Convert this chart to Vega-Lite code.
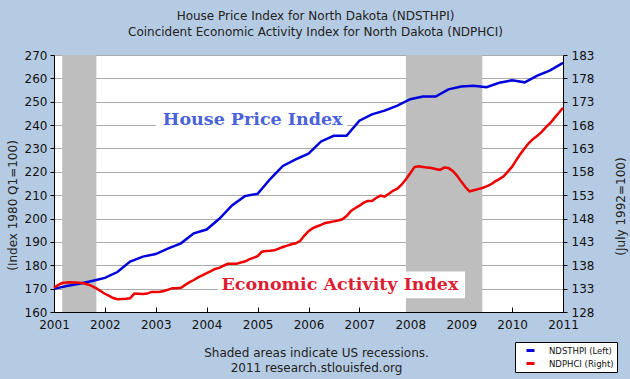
{
  "$schema": "https://vega.github.io/schema/vega-lite/v6.json",
  "width": 509,
  "height": 257,
  "autosize": {"type": "none"},
  "padding": {"left": 54, "top": 55, "right": 67, "bottom": 67},
  "background": "#B5CBE3",
  "title": {
    "text": ["House Price Index for North Dakota (NDSTHPI)", "Coincident Economic Activity Index for North Dakota (NDPHCI)"],
    "font": "DejaVu Sans", "fontSize": 12, "fontWeight": "normal", "color": "#222222",
    "lineHeight": 16, "anchor": "middle", "baseline": "bottom", "offset": 18, "dx": 7, "dy": 20
  },
  "config": {"view": {"fill": "white", "stroke": null}, "font": "DejaVu Sans"},
  "datasets": {
    "recessions": [
      {"date": "2001-03-01", "end": "2001-11-01"},
      {"date": "2007-12-01", "end": "2009-06-01"}
    ],
    "boxes": [
      {"date": "2003-01-01", "end": "2006-10-05", "value": 237.5, "value2": 247.3},
      {"date": "2004-03-22", "end": "2009-01-28", "value": 165.9, "value2": 177.3}
    ],
    "label1": [{"date": "2003-02-21", "value": 240, "label": "House Price Index"}],
    "label2": [{"date": "2004-04-17", "value": 169.4, "label": "Economic Activity Index"}],
    "hpi": [
      {"date": "2001-01-01", "value": 169.9}, {"date": "2001-04-01", "value": 171.1},
      {"date": "2001-07-01", "value": 172.1}, {"date": "2001-10-01", "value": 173.3},
      {"date": "2002-01-01", "value": 174.6}, {"date": "2002-04-01", "value": 177.1},
      {"date": "2002-07-01", "value": 181.6}, {"date": "2002-10-01", "value": 183.7},
      {"date": "2003-01-01", "value": 184.8}, {"date": "2003-04-01", "value": 187.2},
      {"date": "2003-07-01", "value": 189.4}, {"date": "2003-10-01", "value": 193.7},
      {"date": "2004-01-01", "value": 195.3}, {"date": "2004-04-01", "value": 199.9},
      {"date": "2004-07-01", "value": 205.6}, {"date": "2004-10-01", "value": 209.6},
      {"date": "2005-01-01", "value": 210.6}, {"date": "2005-04-01", "value": 216.9},
      {"date": "2005-07-01", "value": 222.5}, {"date": "2005-10-01", "value": 225.3},
      {"date": "2006-01-01", "value": 227.8}, {"date": "2006-04-01", "value": 233.0},
      {"date": "2006-07-01", "value": 235.4}, {"date": "2006-10-01", "value": 235.4},
      {"date": "2007-01-01", "value": 241.9}, {"date": "2007-04-01", "value": 244.6},
      {"date": "2007-07-01", "value": 246.2}, {"date": "2007-10-01", "value": 248.3},
      {"date": "2008-01-01", "value": 251.1}, {"date": "2008-04-01", "value": 252.2},
      {"date": "2008-07-01", "value": 252.2}, {"date": "2008-10-01", "value": 255.3},
      {"date": "2009-01-01", "value": 256.5}, {"date": "2009-04-01", "value": 256.8},
      {"date": "2009-07-01", "value": 256.2}, {"date": "2009-10-01", "value": 258.1},
      {"date": "2010-01-01", "value": 259.2}, {"date": "2010-04-01", "value": 258.3},
      {"date": "2010-07-01", "value": 261.2}, {"date": "2010-10-01", "value": 263.4},
      {"date": "2011-01-01", "value": 266.6}
    ],
    "ci": [
      {"date": "2001-01-01", "value": 133.2}, {"date": "2001-02-01", "value": 133.8}, {"date": "2001-03-01", "value": 134.2}, {"date": "2001-04-01", "value": 134.3},
      {"date": "2001-05-01", "value": 134.35}, {"date": "2001-06-01", "value": 134.3}, {"date": "2001-07-01", "value": 134.25}, {"date": "2001-08-01", "value": 134.15},
      {"date": "2001-09-01", "value": 133.9}, {"date": "2001-10-01", "value": 133.55}, {"date": "2001-11-01", "value": 133.05}, {"date": "2001-12-01", "value": 132.5},
      {"date": "2002-01-01", "value": 131.9}, {"date": "2002-02-01", "value": 131.45}, {"date": "2002-03-01", "value": 131.0}, {"date": "2002-04-01", "value": 130.75},
      {"date": "2002-05-01", "value": 130.8}, {"date": "2002-06-01", "value": 130.85}, {"date": "2002-07-01", "value": 130.95}, {"date": "2002-08-01", "value": 131.95},
      {"date": "2002-09-01", "value": 131.9}, {"date": "2002-10-01", "value": 131.85}, {"date": "2002-11-01", "value": 131.95}, {"date": "2002-12-01", "value": 132.3},
      {"date": "2003-01-01", "value": 132.3}, {"date": "2003-02-01", "value": 132.35}, {"date": "2003-03-01", "value": 132.5}, {"date": "2003-04-01", "value": 132.8},
      {"date": "2003-05-01", "value": 133.1}, {"date": "2003-06-01", "value": 133.1}, {"date": "2003-07-01", "value": 133.2}, {"date": "2003-08-01", "value": 133.8},
      {"date": "2003-09-01", "value": 134.4}, {"date": "2003-10-01", "value": 134.85}, {"date": "2003-11-01", "value": 135.4}, {"date": "2003-12-01", "value": 135.85},
      {"date": "2004-01-01", "value": 136.3}, {"date": "2004-02-01", "value": 136.75}, {"date": "2004-03-01", "value": 137.2}, {"date": "2004-04-01", "value": 137.45},
      {"date": "2004-05-01", "value": 137.9}, {"date": "2004-06-01", "value": 138.3}, {"date": "2004-07-01", "value": 138.3}, {"date": "2004-08-01", "value": 138.3},
      {"date": "2004-09-01", "value": 138.6}, {"date": "2004-10-01", "value": 138.8}, {"date": "2004-11-01", "value": 139.25}, {"date": "2004-12-01", "value": 139.6},
      {"date": "2005-01-01", "value": 139.95}, {"date": "2005-02-01", "value": 140.9}, {"date": "2005-03-01", "value": 141.05}, {"date": "2005-04-01", "value": 141.1},
      {"date": "2005-05-01", "value": 141.2}, {"date": "2005-06-01", "value": 141.55}, {"date": "2005-07-01", "value": 141.9}, {"date": "2005-08-01", "value": 142.2},
      {"date": "2005-09-01", "value": 142.5}, {"date": "2005-10-01", "value": 142.7}, {"date": "2005-11-01", "value": 143.2}, {"date": "2005-12-01", "value": 144.3},
      {"date": "2006-01-01", "value": 145.3}, {"date": "2006-02-01", "value": 145.95}, {"date": "2006-03-01", "value": 146.3}, {"date": "2006-04-01", "value": 146.65},
      {"date": "2006-05-01", "value": 147.05}, {"date": "2006-06-01", "value": 147.2}, {"date": "2006-07-01", "value": 147.4}, {"date": "2006-08-01", "value": 147.6},
      {"date": "2006-09-01", "value": 147.85}, {"date": "2006-10-01", "value": 148.55}, {"date": "2006-11-01", "value": 149.6}, {"date": "2006-12-01", "value": 150.2},
      {"date": "2007-01-01", "value": 150.75}, {"date": "2007-02-01", "value": 151.4}, {"date": "2007-03-01", "value": 151.75}, {"date": "2007-04-01", "value": 151.75},
      {"date": "2007-05-01", "value": 152.4}, {"date": "2007-06-01", "value": 152.9}, {"date": "2007-07-01", "value": 152.7}, {"date": "2007-08-01", "value": 153.3},
      {"date": "2007-09-01", "value": 154.0}, {"date": "2007-10-01", "value": 154.4}, {"date": "2007-11-01", "value": 155.3}, {"date": "2007-12-01", "value": 156.4},
      {"date": "2008-01-01", "value": 157.7}, {"date": "2008-02-01", "value": 159.0}, {"date": "2008-03-01", "value": 159.2}, {"date": "2008-04-01", "value": 159.05},
      {"date": "2008-05-01", "value": 158.9}, {"date": "2008-06-01", "value": 158.8}, {"date": "2008-07-01", "value": 158.6}, {"date": "2008-08-01", "value": 158.4},
      {"date": "2008-09-01", "value": 158.9}, {"date": "2008-10-01", "value": 158.8}, {"date": "2008-11-01", "value": 158.2}, {"date": "2008-12-01", "value": 157.2},
      {"date": "2009-01-01", "value": 155.9}, {"date": "2009-02-01", "value": 154.7}, {"date": "2009-03-01", "value": 153.8}, {"date": "2009-04-01", "value": 154.05},
      {"date": "2009-05-01", "value": 154.3}, {"date": "2009-06-01", "value": 154.55}, {"date": "2009-07-01", "value": 154.9}, {"date": "2009-08-01", "value": 155.3},
      {"date": "2009-09-01", "value": 155.95}, {"date": "2009-10-01", "value": 156.45}, {"date": "2009-11-01", "value": 157.05}, {"date": "2009-12-01", "value": 158.05},
      {"date": "2010-01-01", "value": 159.1}, {"date": "2010-02-01", "value": 160.55}, {"date": "2010-03-01", "value": 161.8}, {"date": "2010-04-01", "value": 163.05},
      {"date": "2010-05-01", "value": 164.15}, {"date": "2010-06-01", "value": 165.05}, {"date": "2010-07-01", "value": 165.7}, {"date": "2010-08-01", "value": 166.55},
      {"date": "2010-09-01", "value": 167.55}, {"date": "2010-10-01", "value": 168.4}, {"date": "2010-11-01", "value": 169.55}, {"date": "2010-12-01", "value": 170.6},
      {"date": "2011-01-01", "value": 171.7}
    ]
  },
  "encoding": {
    "x": {
      "field": "date", "type": "temporal",
      "scale": {"type": "utc", "domain": [{"year": 2001, "month": 1, "date": 1, "utc": true}, {"year": 2011, "month": 1, "date": 1, "utc": true}]},
      "axis": {
        "tickCount": {"interval": "year", "step": 1}, "format": "%Y", "labelFlush": false, "labelOverlap": false,
        "grid": false, "tickSize": -5, "labelPadding": 12, "domainColor": "#000000", "tickColor": "#000000",
        "labelFont": "DejaVu Sans", "labelFontSize": 12, "labelColor": "#111111",
        "title": ["Shaded areas indicate US recessions.", "2011 research.stlouisfed.org"],
        "titleFont": "DejaVu Sans", "titleFontSize": 12, "titleFontWeight": "normal", "titleColor": "#222222",
        "titleLineHeight": 15, "titleX": 262, "titleY": 35, "titleBaseline": "top", "titleAlign": "center"
      }
    }
  },
  "layer": [
    {
      "data": {"name": "recessions"},
      "mark": {"type": "rect", "color": "#BEBEBE"},
      "encoding": {"x2": {"field": "end"}}
    },
    {
      "encoding": {
        "y": {
          "field": "value", "type": "quantitative",
          "scale": {"domain": [160, 270], "nice": false, "zero": false},
          "axis": {
            "orient": "left", "values": [160, 170, 180, 190, 200, 210, 220, 230, 240, 250, 260, 270],
            "grid": true, "gridColor": "#AAAAAA", "tickSize": 4, "labelPadding": 3,
            "domainColor": "#000000", "tickColor": "#000000",
            "labelFont": "DejaVu Sans", "labelFontSize": 12, "labelColor": "#111111",
            "title": "(Index 1980 Q1=100)", "titleFont": "DejaVu Sans", "titleFontSize": 12, "titleFontWeight": "normal",
            "titleColor": "#222222", "titleAngle": 270, "titleX": -42, "titleY": 150, "titleBaseline": "middle", "titleAlign": "center"
          }
        }
      },
      "layer": [
        {
          "data": {"name": "hpi"},
          "mark": {"type": "line", "strokeWidth": 2.5},
          "encoding": {
            "color": {
              "datum": "NDSTHPI (Left)", "type": "nominal",
              "scale": {"domain": ["NDSTHPI (Left)", "NDPHCI (Right)"], "range": ["#0000DD", "#EE0000"]},
              "legend": {
                "title": null, "orient": "none", "legendX": 461, "legendY": 287, "direction": "vertical",
                "fillColor": "#FFFFFF", "strokeColor": "#000000", "padding": 3, "symbolOffset": 7,
                "symbolType": "stroke", "symbolStrokeWidth": 3, "symbolSize": 64, "clipHeight": 11,
                "labelFont": "DejaVu Sans", "labelFontSize": 8.5, "labelColor": "#111111", "labelOffset": 13, "rowPadding": 2
              }
            }
          }
        },
        {
          "data": {"name": "boxes"},
          "mark": {"type": "rect", "color": "#FFFFFF"},
          "encoding": {"x2": {"field": "end"}, "y2": {"field": "value2"}}
        },
        {
          "data": {"name": "label1"},
          "mark": {"type": "text", "font": "DejaVu Serif", "fontWeight": "bold", "fontSize": 17.5, "align": "left", "baseline": "alphabetic", "color": "#4A63DB"},
          "encoding": {"text": {"field": "label"}}
        },
        {
          "data": {"name": "label2"},
          "mark": {"type": "text", "font": "DejaVu Serif", "fontWeight": "bold", "fontSize": 17.5, "align": "left", "baseline": "alphabetic", "color": "#DC1E32"},
          "encoding": {"text": {"field": "label"}}
        }
      ]
    },
    {
      "data": {"name": "ci"},
      "mark": {"type": "line", "strokeWidth": 2.5},
      "encoding": {
        "y": {
          "field": "value", "type": "quantitative",
          "scale": {"domain": [128, 183], "nice": false, "zero": false},
          "axis": {
            "orient": "right", "values": [128, 133, 138, 143, 148, 153, 158, 163, 168, 173, 178, 183],
            "grid": false, "tickSize": 4, "labelPadding": 4,
            "domainColor": "#000000", "tickColor": "#000000",
            "labelFont": "DejaVu Sans", "labelFontSize": 12, "labelColor": "#111111",
            "title": "(July 1992=100)", "titleFont": "DejaVu Sans", "titleFontSize": 12, "titleFontWeight": "normal",
            "titleColor": "#222222", "titleAngle": 270, "titleX": 57, "titleY": 151, "titleBaseline": "middle", "titleAlign": "center"
          }
        },
        "color": {
          "datum": "NDPHCI (Right)", "type": "nominal",
          "scale": {"domain": ["NDSTHPI (Left)", "NDPHCI (Right)"], "range": ["#0000DD", "#EE0000"]},
          "legend": {
            "title": null, "orient": "none", "legendX": 461, "legendY": 287, "direction": "vertical",
            "fillColor": "#FFFFFF", "strokeColor": "#000000", "padding": 3, "symbolOffset": 7,
            "symbolType": "stroke", "symbolStrokeWidth": 3, "symbolSize": 64, "clipHeight": 11,
            "labelFont": "DejaVu Sans", "labelFontSize": 8.5, "labelColor": "#111111", "labelOffset": 13, "rowPadding": 2
          }
        }
      }
    }
  ],
  "resolve": {"scale": {"y": "independent"}}
}
